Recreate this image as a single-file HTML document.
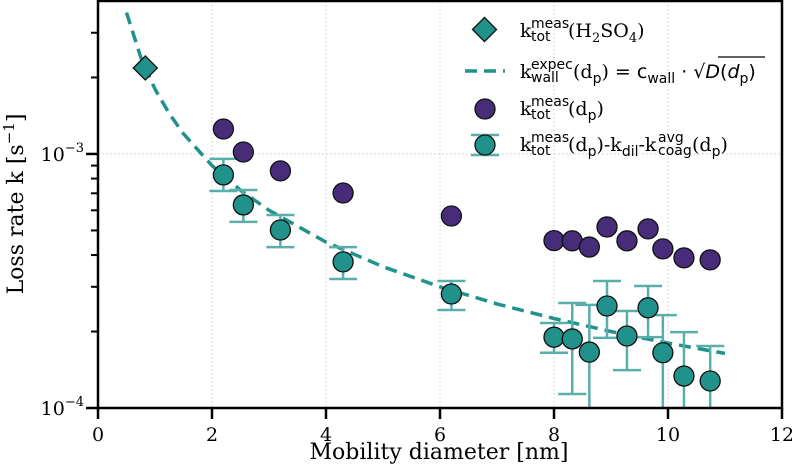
<!DOCTYPE html>
<html><head><meta charset="utf-8"><style>
body{margin:0;background:#fff}
svg{display:block;font-family:"DejaVu Serif","Liberation Serif",serif}
.s{font-family:"DejaVu Sans","Liberation Sans",sans-serif;font-size:14px}
.k{font-size:19px}
</style></head><body>
<svg id="chart" width="792" height="464" viewBox="0 0 792 464" xmlns="http://www.w3.org/2000/svg">
<g id="grid"></g>
<g id="curve"></g>
<g id="errs"></g>
<g id="marks"></g>
<g id="axes"></g>
<text x="439" y="459" font-size="22" text-anchor="middle">Mobility diameter [nm]</text>
<text transform="translate(23,204) rotate(-90)" font-size="22" text-anchor="middle">Loss rate k [s<tspan dy="-9" font-size="15">−1</tspan><tspan dy="9">]</tspan></text>
<g>
 <rect x="476" y="21" width="17" height="17" fill="#21918c" stroke="#111" stroke-width="1.3" transform="rotate(45 484.5 29.5)"/>
 <g>
  <text class="k" x="520" y="37">k</text><text class="s" x="531" y="28">meas</text><text class="s" x="531" y="41">tot</text>
  <text class="k" x="568" y="37">(H<tspan font-size="13" dy="5">2</tspan><tspan dy="-5">SO</tspan><tspan font-size="13" dy="5">4</tspan><tspan dy="-5">)</tspan></text>
 </g>
 <line x1="465" y1="71" x2="505" y2="71" stroke="#21918c" stroke-width="3.5" stroke-dasharray="12,7"/>
 <g>
  <text class="k" x="520" y="78">k</text><text class="s" x="531" y="69">expec</text><text class="s" x="531" y="82">wall</text>
  <text class="k" x="573" y="78">(d<tspan class="s" dy="5">p</tspan><tspan dy="-5">) = </tspan><tspan style="font-family:'DejaVu Sans',sans-serif">c</tspan><tspan class="s" dy="5">wall</tspan><tspan dy="-5" style="font-family:'DejaVu Sans',sans-serif"> · √</tspan><tspan style="font-family:'DejaVu Sans',sans-serif;font-style:italic">D</tspan><tspan style="font-family:'DejaVu Sans',sans-serif">(</tspan><tspan style="font-family:'DejaVu Sans',sans-serif;font-style:italic">d</tspan><tspan class="s" dy="5">p</tspan><tspan dy="-5" style="font-family:'DejaVu Sans',sans-serif">)</tspan></text>
  <line x1="718" y1="57" x2="765" y2="57" stroke="#000" stroke-width="1.2"/>
 </g>
 <circle cx="485" cy="109" r="10" fill="#472c7a" stroke="#111" stroke-width="1.3"/>
 <g>
  <text class="k" x="520" y="115">k</text><text class="s" x="531" y="106">meas</text><text class="s" x="531" y="119">tot</text>
  <text class="k" x="568" y="115">(d<tspan class="s" dy="5">p</tspan><tspan dy="-5">)</tspan></text>
 </g>
 <line x1="471" y1="135" x2="499" y2="135" stroke="#5aaea9" stroke-width="2.5"/>
 <line x1="471" y1="155" x2="499" y2="155" stroke="#5aaea9" stroke-width="2.5"/>
 <circle cx="485" cy="145" r="10" fill="#21918c" stroke="#111" stroke-width="1.3"/>
 <g>
  <text class="k" x="520" y="151">k</text><text class="s" x="531" y="142">meas</text><text class="s" x="531" y="155">tot</text>
  <text class="k" x="568" y="151">(d<tspan class="s" dy="5">p</tspan><tspan dy="-5">)-k</tspan><tspan class="s" dy="5">dil</tspan><tspan dy="-5">-k</tspan></text>
  <text class="s" x="658" y="142">avg</text><text class="s" x="658" y="155">coag</text>
  <text class="k" x="692" y="151">(d<tspan class="s" dy="5">p</tspan><tspan dy="-5">)</tspan></text>
 </g>
</g>
</svg>
<script>
const xTicks=[0,2,4,6,8,10,12];
const h2so4D=[0.83];
const h2so4K=[2.18e-3];
const curveD=[0.5,0.75,1,1.25,1.5,2,2.5,3,4,5,6,7,8,9,10,11];
const curveK=[3.6e-3,2.4e-3,1.8e-3,1.44e-3,1.2e-3,0.9e-3,0.72e-3,0.6e-3,0.45e-3,0.36e-3,0.30e-3,0.257e-3,0.225e-3,0.2e-3,0.18e-3,0.164e-3];
const measD=[2.2,2.55,3.2,4.3,6.2,8.0,8.32,8.62,8.93,9.28,9.65,9.91,10.28,10.74];
const measK=[1.254e-3,1.018e-3,0.858e-3,0.702e-3,0.570e-3,0.456e-3,0.455e-3,0.430e-3,0.516e-3,0.455e-3,0.507e-3,0.423e-3,0.390e-3,0.383e-3];
const corrK=[0.827e-3,0.630e-3,0.502e-3,0.376e-3,0.281e-3,0.190e-3,0.187e-3,0.166e-3,0.252e-3,0.192e-3,0.248e-3,0.165e-3,0.1336e-3,0.1277e-3];
const corrHi=[0.956e-3,0.721e-3,0.575e-3,0.430e-3,0.316e-3,0.216e-3,0.259e-3,0.2545e-3,0.316e-3,0.241e-3,0.302e-3,0.232e-3,0.199e-3,0.1754e-3];
const corrLo=[0.715e-3,0.540e-3,0.430e-3,0.322e-3,0.243e-3,0.165e-3,0.1135e-3,0.05e-3,0.1888e-3,0.141e-3,0.190e-3,0.05e-3,0.05e-3,0.05e-3];
const L=98,R=782,T=1,B=408,xMax=12,yMin=1e-4,yMax=4e-3;
const NS='http://www.w3.org/2000/svg';
const X=v=>L+(v/xMax)*(R-L);
const Y=v=>{const c=Math.max(v,5e-5);return B-(Math.log10(c)-Math.log10(yMin))/(Math.log10(yMax)-Math.log10(yMin))*(B-T);};
function mk(p,t,a){const e=document.createElementNS(NS,t);for(const k in a)e.setAttribute(k,a[k]);p.appendChild(e);return e;}
const g=document.getElementById('grid'),cu=document.getElementById('curve'),er=document.getElementById('errs'),mr=document.getElementById('marks'),ax=document.getElementById('axes');
xTicks.slice(1,-1).forEach(t=>{const l=mk(g,'line',{x1:X(t),x2:X(t),y1:T,y2:B,stroke:'#ccc','stroke-width':1,'stroke-dasharray':'1.5,2.5'});

});
{const l=mk(g,'line',{x1:L,x2:R,y1:Y(1e-3),y2:Y(1e-3),stroke:'#ccc','stroke-width':1,'stroke-dasharray':'1.5,2.5'});

}
{const p=mk(cu,'path',{d:curveD.map((d,i)=>(i?'L':'M')+X(d).toFixed(1)+','+Y(curveK[i]).toFixed(1)).join(''),fill:'none',stroke:'#21918c','stroke-width':3.5,'stroke-dasharray':'12,7'});

}
measD.forEach((d,i)=>{const x=X(d);const yh=Y(corrHi[i]),yl=Math.min(Y(corrLo[i]),B);
const e=mk(er,'path',{d:`M${x},${yh}V${yl}M${x-14},${yh}H${x+14}`+(Y(corrLo[i])<B?`M${x-14},${yl}H${x+14}`:''),stroke:'#5aaea9','stroke-width':2.5,fill:'none'});

});
measD.forEach((d,i)=>{const c=mk(mr,'circle',{cx:X(d),cy:Y(measK[i]),r:10,fill:'#472c7a',stroke:'#111','stroke-width':1.3});

});
measD.forEach((d,i)=>{const c=mk(mr,'circle',{cx:X(d),cy:Y(corrK[i]),r:10,fill:'#21918c',stroke:'#111','stroke-width':1.3});

});
h2so4D.forEach((d,i)=>{const x=X(d),y=Y(h2so4K[i]);const r=mk(mr,'rect',{x:x-8.5,y:y-8.5,width:17,height:17,fill:'#21918c',stroke:'#111','stroke-width':1.3,transform:`rotate(45 ${x} ${y})`});

});
mk(ax,'rect',{x:L,y:T,width:R-L,height:B-T,fill:'none',stroke:'#000','stroke-width':2.5});
xTicks.forEach(t=>{mk(ax,'line',{x1:X(t),x2:X(t),y1:B,y2:B+11,stroke:'#000','stroke-width':2.5});
const tx=mk(ax,'text',{x:X(t),y:B+33,'font-size':19,'text-anchor':'middle'});tx.textContent=t;

});
[1e-4,1e-3].forEach((v,i)=>{mk(ax,'line',{x1:L-12,x2:L,y1:Y(v),y2:Y(v),stroke:'#000','stroke-width':2.5});
const tx=mk(ax,'text',{x:L-14,y:Y(v)+7,'font-size':19,'text-anchor':'end'});tx.innerHTML='10<tspan font-size="13" dy="-9">−'+(i?3:4)+'</tspan>';

});
[2,3,4,5,6,7,8,9,20,30,40].forEach(m=>{const v=m*1e-4;if(v>=yMax)return;mk(ax,'line',{x1:L-7,x2:L,y1:Y(v),y2:Y(v),stroke:'#000','stroke-width':2});});
</script>
</body></html>
